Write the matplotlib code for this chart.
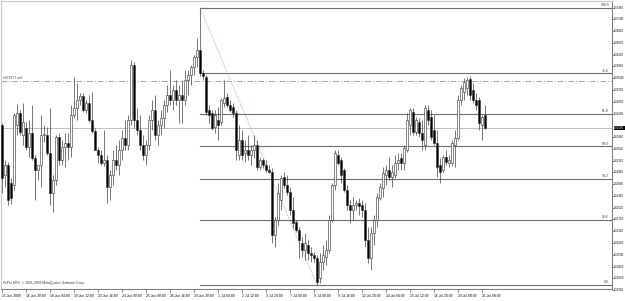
import numpy as np
import matplotlib
matplotlib.use("Agg")
import matplotlib.pyplot as plt
import matplotlib.transforms as mtransforms

# H4 GBPUSD-style candles, 15 Jun 2009 12:00 .. 21 Jul 2009 12:00
opens = [1.6427, 1.6291, 1.6318, 1.6269, 1.6264, 1.6427, 1.6460, 1.6400, 1.6419, 1.6367,
         1.6405, 1.6337, 1.6305, 1.6318, 1.6400, 1.6400, 1.6351, 1.6242, 1.6277, 1.6394,
         1.6332, 1.6367, 1.6378, 1.6367, 1.6454, 1.6473, 1.6495, 1.6506, 1.6468, 1.6487,
         1.6441, 1.6411, 1.6359, 1.6345, 1.6324, 1.6332, 1.6258, 1.6291, 1.6332, 1.6318,
         1.6359, 1.6392, 1.6373, 1.6441, 1.6590, 1.6441, 1.6413, 1.6373, 1.6345, 1.6373,
         1.6441, 1.6468, 1.6400, 1.6427, 1.6446, 1.6481, 1.6509, 1.6495, 1.6522, 1.6495,
         1.6509, 1.6495, 1.6549, 1.6563, 1.6585, 1.6612, 1.6631, 1.6568, 1.6558, 1.6468,
         1.6460, 1.6422, 1.6441, 1.6435, 1.6487, 1.6503, 1.6481, 1.6476, 1.6460, 1.6345,
         1.6386, 1.6351, 1.6359, 1.6345, 1.6359, 1.6373, 1.6313, 1.6332, 1.6318, 1.6305,
         1.6299, 1.6128, 1.6169, 1.6223, 1.6286, 1.6264, 1.6245, 1.6196, 1.6163, 1.6141,
         1.6106, 1.6087, 1.6101, 1.6079, 1.6073, 1.6065, 1.6011, 1.6054, 1.6068, 1.6087,
         1.6169, 1.6264, 1.6345, 1.6332, 1.6305, 1.6250, 1.6209, 1.6196, 1.6209, 1.6215,
         1.6209, 1.6196, 1.6114, 1.6065, 1.6133, 1.6169, 1.6228, 1.6256, 1.6291, 1.6305,
         1.6286, 1.6291, 1.6324, 1.6337, 1.6324, 1.6359, 1.6427, 1.6462, 1.6408, 1.6435,
         1.6405, 1.6373, 1.6468, 1.6449, 1.6413, 1.6378, 1.6318, 1.6305, 1.6340, 1.6324,
         1.6324, 1.6373, 1.6392, 1.6495, 1.6517, 1.6528, 1.6552, 1.6522, 1.6495, 1.6495,
         1.6427, 1.6454]
highs = [1.6432, 1.6332, 1.6326, 1.6283, 1.6460, 1.6484, 1.6468, 1.6487, 1.6435, 1.6441,
         1.6481, 1.6345, 1.6318, 1.6454, 1.6427, 1.6422, 1.6473, 1.6291, 1.6400, 1.6405,
         1.6386, 1.6405, 1.6405, 1.6481, 1.6558, 1.6541, 1.6514, 1.6514, 1.6495, 1.6509,
         1.6517, 1.6419, 1.6367, 1.6359, 1.6413, 1.6345, 1.6305, 1.6359, 1.6373, 1.6386,
         1.6413, 1.6441, 1.6454, 1.6604, 1.6598, 1.6473, 1.6454, 1.6400, 1.6386, 1.6454,
         1.6495, 1.6509, 1.6441, 1.6468, 1.6495, 1.6536, 1.6577, 1.6536, 1.6549, 1.6536,
         1.6549, 1.6577, 1.6577, 1.6590, 1.6617, 1.6664, 1.6745, 1.6577, 1.6563, 1.6481,
         1.6468, 1.6468, 1.6476, 1.6500, 1.6549, 1.6514, 1.6495, 1.6487, 1.6468, 1.6427,
         1.6413, 1.6386, 1.6400, 1.6373, 1.6400, 1.6386, 1.6340, 1.6337, 1.6332, 1.6318,
         1.6310, 1.6177, 1.6269, 1.6291, 1.6299, 1.6291, 1.6258, 1.6231, 1.6169, 1.6150,
         1.6122, 1.6133, 1.6114, 1.6095, 1.6082, 1.6073, 1.6079, 1.6101, 1.6114, 1.6182,
         1.6269, 1.6359, 1.6359, 1.6340, 1.6310, 1.6264, 1.6223, 1.6231, 1.6223, 1.6228,
         1.6223, 1.6215, 1.6150, 1.6150, 1.6182, 1.6242, 1.6269, 1.6313, 1.6318, 1.6340,
         1.6318, 1.6345, 1.6351, 1.6351, 1.6373, 1.6460, 1.6473, 1.6473, 1.6449, 1.6446,
         1.6441, 1.6481, 1.6481, 1.6468, 1.6454, 1.6413, 1.6337, 1.6345, 1.6359, 1.6345,
         1.6386, 1.6413, 1.6509, 1.6536, 1.6555, 1.6558, 1.6560, 1.6541, 1.6514, 1.6503,
         1.6454, 1.6481]
lows = [1.6242, 1.6258, 1.6209, 1.6212, 1.6250, 1.6400, 1.6400, 1.6373, 1.6359, 1.6340,
        1.6332, 1.6223, 1.6277, 1.6258, 1.6381, 1.6345, 1.6209, 1.6190, 1.6264, 1.6318,
        1.6318, 1.6313, 1.6332, 1.6340, 1.6446, 1.6441, 1.6481, 1.6462, 1.6460, 1.6435,
        1.6405, 1.6359, 1.6324, 1.6318, 1.6316, 1.6215, 1.6223, 1.6264, 1.6305, 1.6291,
        1.6332, 1.6359, 1.6359, 1.6427, 1.6419, 1.6400, 1.6359, 1.6332, 1.6318, 1.6359,
        1.6413, 1.6386, 1.6373, 1.6400, 1.6419, 1.6462, 1.6481, 1.6468, 1.6481, 1.6432,
        1.6432, 1.6481, 1.6509, 1.6536, 1.6563, 1.6585, 1.6560, 1.6549, 1.6454, 1.6432,
        1.6413, 1.6405, 1.6386, 1.6427, 1.6476, 1.6476, 1.6462, 1.6449, 1.6332, 1.6332,
        1.6332, 1.6326, 1.6332, 1.6318, 1.6337, 1.6305, 1.6305, 1.6310, 1.6299, 1.6296,
        1.6106, 1.6095, 1.6155, 1.6196, 1.6256, 1.6237, 1.6182, 1.6147, 1.6136, 1.6065,
        1.6068, 1.6060, 1.6060, 1.6054, 1.6054, 1.5992, 1.5997, 1.6033, 1.6046, 1.6079,
        1.6163, 1.6250, 1.6318, 1.6269, 1.6245, 1.6196, 1.6160, 1.6169, 1.6196, 1.6182,
        1.6177, 1.6095, 1.6052, 1.6033, 1.6101, 1.6150, 1.6223, 1.6231, 1.6264, 1.6277,
        1.6258, 1.6283, 1.6305, 1.6305, 1.6305, 1.6354, 1.6400, 1.6400, 1.6400, 1.6394,
        1.6359, 1.6359, 1.6427, 1.6386, 1.6373, 1.6286, 1.6269, 1.6299, 1.6318, 1.6313,
        1.6316, 1.6313, 1.6386, 1.6481, 1.6495, 1.6509, 1.6495, 1.6487, 1.6468, 1.6413,
        1.6386, 1.6416]
closes = [1.6283, 1.6318, 1.6223, 1.6228, 1.6454, 1.6460, 1.6408, 1.6435, 1.6367, 1.6405,
          1.6337, 1.6305, 1.6318, 1.6400, 1.6403, 1.6351, 1.6242, 1.6277, 1.6394, 1.6332,
          1.6367, 1.6378, 1.6367, 1.6454, 1.6473, 1.6495, 1.6506, 1.6468, 1.6487, 1.6441,
          1.6411, 1.6359, 1.6345, 1.6324, 1.6332, 1.6258, 1.6291, 1.6332, 1.6318, 1.6359,
          1.6392, 1.6373, 1.6441, 1.6590, 1.6441, 1.6413, 1.6373, 1.6345, 1.6373, 1.6441,
          1.6468, 1.6400, 1.6427, 1.6446, 1.6481, 1.6509, 1.6495, 1.6522, 1.6495, 1.6509,
          1.6495, 1.6549, 1.6563, 1.6585, 1.6612, 1.6631, 1.6568, 1.6560, 1.6462, 1.6454,
          1.6419, 1.6454, 1.6427, 1.6495, 1.6500, 1.6481, 1.6468, 1.6460, 1.6359, 1.6386,
          1.6345, 1.6359, 1.6345, 1.6359, 1.6373, 1.6313, 1.6332, 1.6318, 1.6305, 1.6299,
          1.6128, 1.6169, 1.6242, 1.6283, 1.6264, 1.6245, 1.6196, 1.6160, 1.6141, 1.6114,
          1.6087, 1.6106, 1.6079, 1.6073, 1.6065, 1.6000, 1.6054, 1.6073, 1.6087, 1.6169,
          1.6264, 1.6351, 1.6324, 1.6291, 1.6250, 1.6209, 1.6196, 1.6209, 1.6215, 1.6207,
          1.6196, 1.6114, 1.6065, 1.6133, 1.6169, 1.6231, 1.6258, 1.6296, 1.6305, 1.6286,
          1.6299, 1.6324, 1.6332, 1.6324, 1.6364, 1.6441, 1.6468, 1.6408, 1.6441, 1.6405,
          1.6386, 1.6473, 1.6441, 1.6394, 1.6378, 1.6313, 1.6299, 1.6340, 1.6326, 1.6332,
          1.6378, 1.6392, 1.6495, 1.6528, 1.6544, 1.6549, 1.6509, 1.6495, 1.6481, 1.6432,
          1.6449, 1.6419]

date_ticks = [0, 8, 16, 24, 32, 40, 48, 56, 64, 72, 80, 88, 96, 104, 112, 120, 128, 136, 144, 152, 160]
date_labels = ["15 Jun 2009", "16 Jun 20:00", "18 Jun 04:00", "19 Jun 12:00", "22 Jun 16:00",
               "24 Jun 00:00", "25 Jun 08:00", "26 Jun 16:00", "29 Jun 20:00", "1 Jul 04:00",
               "2 Jul 12:00", "3 Jul 20:00", "7 Jul 00:00", "8 Jul 08:00", "9 Jul 16:00",
               "12 Jul 20:00", "14 Jul 04:00", "15 Jul 12:00", "16 Jul 20:00", "20 Jul 00:00",
               "21 Jul 08:00"]
price_ticks = [1.67460, 1.67140, 1.66820, 1.66500, 1.66180, 1.65860, 1.65540, 1.65220,
               1.64900, 1.64580, 1.64260, 1.63940, 1.63620, 1.63300, 1.62980, 1.62660,
               1.62340, 1.62020, 1.61700, 1.61380, 1.61060, 1.60740, 1.60420, 1.60100,
               1.59780]

fib_levels = [0.0, 23.6, 38.2, 50.0, 61.8, 76.4, 100.0]
fib_high, fib_low = 1.6745, 1.5992
fib_start, fib_end = 66, 105
sell_price = 1.6547
sell_label = "#471977 sell"
copyright = "FxPro MT4, \u00a9 2001-2009 MetaQuotes Software Corp."

plt.rcParams['font.family'] = ['Liberation Sans', 'DejaVu Sans']

opens, highs, lows, closes = map(np.array, (opens, highs, lows, closes))
x = np.arange(len(opens))

fig = plt.figure(figsize=(6.25, 3.01), dpi=100)
ax = fig.add_axes([1 / 625, 1 - 289 / 301, 611 / 625, 288 / 301])
ax.set_xlim(-0.33, 203.33)
ax.set_ylim(1.5981, 1.6764)
ax.set_xticks([])
ax.set_yticks([])
for s in ("top", "left"):
    ax.spines[s].set_color("#c8c8c8")
for s in ("right", "bottom"):
    ax.spines[s].set_color("#808080")
for s in ax.spines.values():
    s.set_linewidth(0.8)

fs = 2.4
pfs = 2.0
# fibonacci levels
for lev in fib_levels:
    p = fib_low + (fib_high - fib_low) * lev / 100
    ax.plot([fib_start, 203.33], [p, p], color="#6e6e6e", lw=0.8, zorder=1)
    ax.text(202.3, p + 0.0002, "%.1f" % lev, fontsize=fs, ha="right", va="bottom", color="#333333")
ax.plot([fib_start, fib_end], [fib_high, fib_low], color="#d08080", lw=0.6, ls=(0, (1, 1.5)), zorder=1)

# order line and bid line
ax.axhline(sell_price, color="#c8a070", lw=0.7, ls=(0, (6, 2, 1, 2)), zorder=1)
ax.text(0.5, sell_price + 0.0002, sell_label, fontsize=fs, ha="left", va="bottom", color="#333333")
ax.axhline(closes[-1], color="#c0c0c0", lw=0.7, zorder=1)

# candles
up = closes >= opens
ax.vlines(x, lows, highs, color="#404040", lw=0.5, zorder=2)
body = np.maximum(np.abs(closes - opens), 0.00006)
ax.bar(x, body, bottom=np.minimum(opens, closes), width=0.62,
       color=np.where(up, "white", "black"), edgecolor="#303030", linewidth=0.4, zorder=3)

ax.text(0.5, 1.5993, copyright, fontsize=fs, ha="left", va="bottom", color="#333333")

# price scale
tr = mtransforms.blended_transform_factory(ax.transAxes, ax.transData)
for p in price_ticks:
    if abs(p - closes[-1]) < 0.0016:
        continue
    ax.plot([1.0, 1.003], [p, p], color="#808080", lw=0.6, transform=tr, clip_on=False)
    ax.text(1.0035, p, "%.5f" % p, fontsize=pfs, va="center", ha="left", transform=tr, clip_on=False)
ax.text(1.0035, closes[-1], "%.5f" % closes[-1], fontsize=pfs, va="center", ha="left", color="white",
        transform=tr, clip_on=False,
        bbox=dict(boxstyle="square,pad=0.1", fc="black", ec="black", lw=0))

# time scale
tr2 = mtransforms.blended_transform_factory(ax.transData, ax.transAxes)
for t, lab in zip(date_ticks, date_labels):
    ax.plot([t, t], [0, -0.01], color="#808080", lw=0.6, transform=tr2, clip_on=False)
    ax.text(t, -0.016, lab, fontsize=fs, ha="left", va="top", transform=tr2, clip_on=False)

fig.savefig("out.png", dpi=100)
